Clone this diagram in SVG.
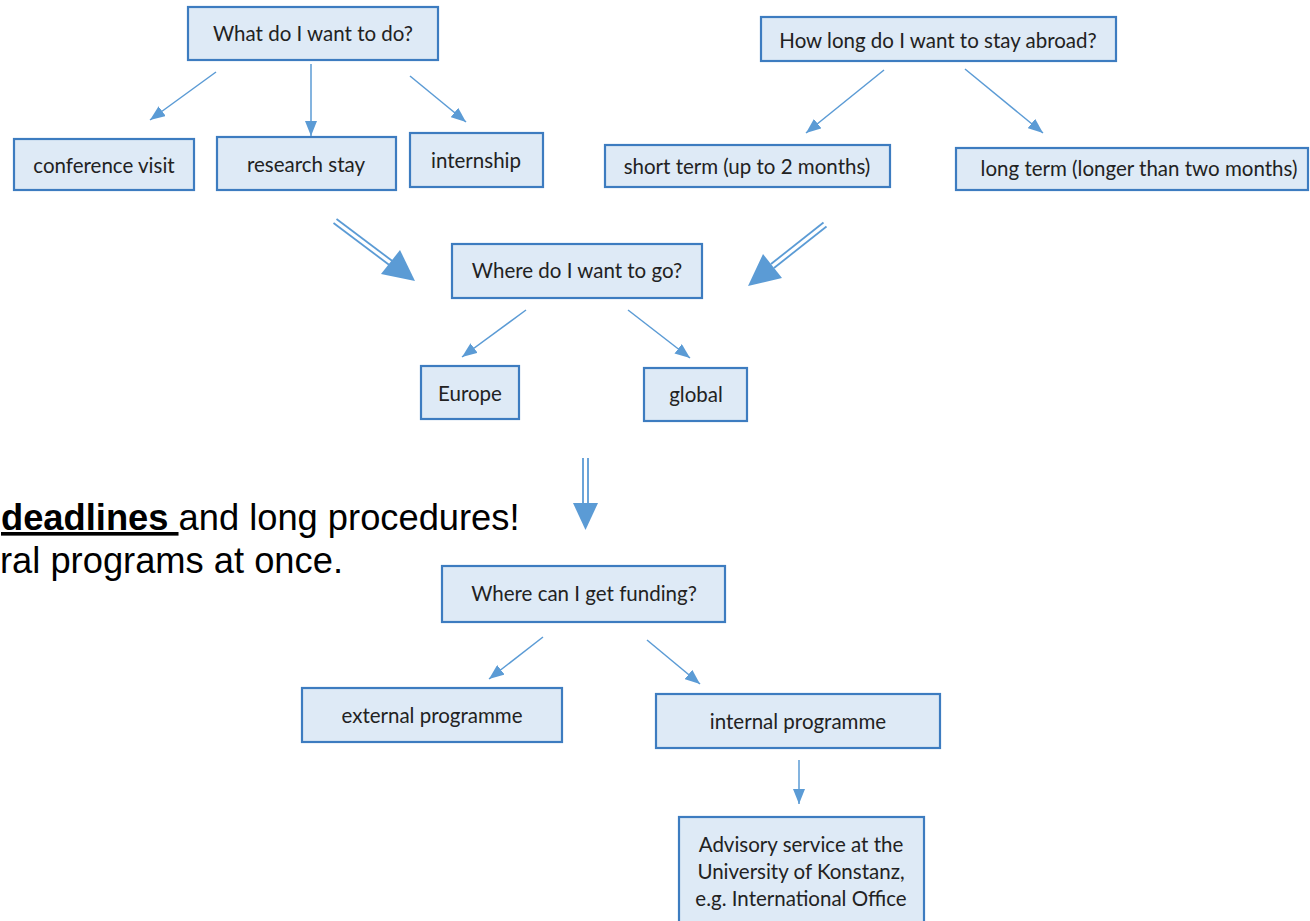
<svg xmlns="http://www.w3.org/2000/svg" width="1310" height="921" viewBox="0 0 1310 921">
<style>
.box{fill:#deeaf6;stroke:#3d7cc0;stroke-width:2.2}
.lbl{font-family:Lato,"Open Sans","Liberation Sans",sans-serif;font-size:20.5px;fill:#222;text-anchor:middle}
.thin{stroke:#5b9bd5;stroke-width:1.5;fill:none;marker-end:url(#ah)}
.dbl{stroke:#5b9bd5;stroke-width:1.8;fill:none}
.head{fill:#5b9bd5}
.note{font-family:"Liberation Sans",Arial,sans-serif;font-size:36.3px;fill:#000}
</style>
<defs>
<marker id="ah" markerUnits="userSpaceOnUse" markerWidth="15" markerHeight="12" viewBox="0 0 15 12" refX="15" refY="6" orient="auto">
<path d="M0,0 L15,6 L0,12 z" fill="#5b9bd5"/>
</marker>
</defs>
<rect width="1310" height="921" fill="#fff"/>

<g id="note">
<text class="note" x="1" y="530"><tspan font-weight="bold" text-decoration="underline">deadlines </tspan>and long procedures!</text>
<text class="note" x="0" y="573">ral programs at once.</text>
</g>

<g id="n-what"><rect class="box" x="188" y="7" width="250" height="53"/><text class="lbl" x="313" y="41">What do I want to do?</text></g>
<g id="n-conf"><rect class="box" x="14" y="139" width="180" height="51"/><text class="lbl" x="104" y="173">conference visit</text></g>
<g id="n-research"><rect class="box" x="217" y="137" width="179" height="53"/><text class="lbl" x="306" y="172">research stay</text></g>
<g id="n-intern"><rect class="box" x="410" y="133" width="133" height="54"/><text class="lbl" x="476" y="168">internship</text></g>
<g id="n-howlong"><rect class="box" x="761" y="17" width="355" height="44"/><text class="lbl" x="938" y="48">How long do I want to stay abroad?</text></g>
<g id="n-short"><rect class="box" x="605" y="145" width="285" height="42"/><text class="lbl" x="747" y="174">short term (up to 2 months)</text></g>
<g id="n-long"><rect class="box" x="956" y="148" width="352" height="42"/><text class="lbl" x="1139" y="176">long term (longer than two months)</text></g>
<g id="n-where"><rect class="box" x="452" y="244" width="250" height="54"/><text class="lbl" x="577" y="278">Where do I want to go?</text></g>
<g id="n-europe"><rect class="box" x="421" y="366" width="98" height="53"/><text class="lbl" x="470" y="401">Europe</text></g>
<g id="n-global"><rect class="box" x="644" y="368" width="103" height="53"/><text class="lbl" x="696" y="402">global</text></g>
<g id="n-funding"><rect class="box" x="442" y="566" width="283" height="56"/><text class="lbl" x="584" y="601">Where can I get funding?</text></g>
<g id="n-external"><rect class="box" x="302" y="688" width="260" height="54"/><text class="lbl" x="432" y="723">external programme</text></g>
<g id="n-internal"><rect class="box" x="656" y="694" width="284" height="54"/><text class="lbl" x="798" y="729">internal programme</text></g>
<g id="n-advisory"><rect class="box" x="679" y="817" width="245" height="120"/>
<text class="lbl" x="801" y="852">Advisory service at the</text>
<text class="lbl" x="801" y="879">University of Konstanz,</text>
<text class="lbl" x="801" y="906">e.g. International Office</text></g>

<g id="connectors">
<line class="thin" x1="216" y1="72" x2="150" y2="120"/>
<line class="thin" x1="311" y1="64" x2="311" y2="136"/>
<line class="thin" x1="410" y1="76" x2="466" y2="122"/>
<line class="thin" x1="884" y1="70" x2="806" y2="133"/>
<line class="thin" x1="965" y1="69" x2="1043" y2="133"/>
<line class="thin" x1="526" y1="310" x2="462" y2="357"/>
<line class="thin" x1="628" y1="310" x2="690" y2="358"/>
<line class="thin" x1="543" y1="637" x2="489" y2="679"/>
<line class="thin" x1="647" y1="640" x2="700" y2="684"/>
<line class="thin" x1="799" y1="760" x2="799" y2="804"/>

<g id="dbl-left">
<line class="dbl" x1="333.5" y1="223" x2="390" y2="265.5"/>
<line class="dbl" x1="336.5" y1="219" x2="393" y2="261.5"/>
<polygon class="head" points="415,281 381,274 400,250"/>
</g>
<g id="dbl-right">
<line class="dbl" x1="823.5" y1="222.5" x2="771" y2="264"/>
<line class="dbl" x1="826.5" y1="226.5" x2="774" y2="268"/>
<polygon class="head" points="748,286 763,254 782,278"/>
</g>
<g id="dbl-down">
<line class="dbl" x1="583" y1="458" x2="583" y2="505"/>
<line class="dbl" x1="588" y1="458" x2="588" y2="505"/>
<polygon class="head" points="573,503 598,503 585.5,530"/>
</g>
</g>
</svg>
